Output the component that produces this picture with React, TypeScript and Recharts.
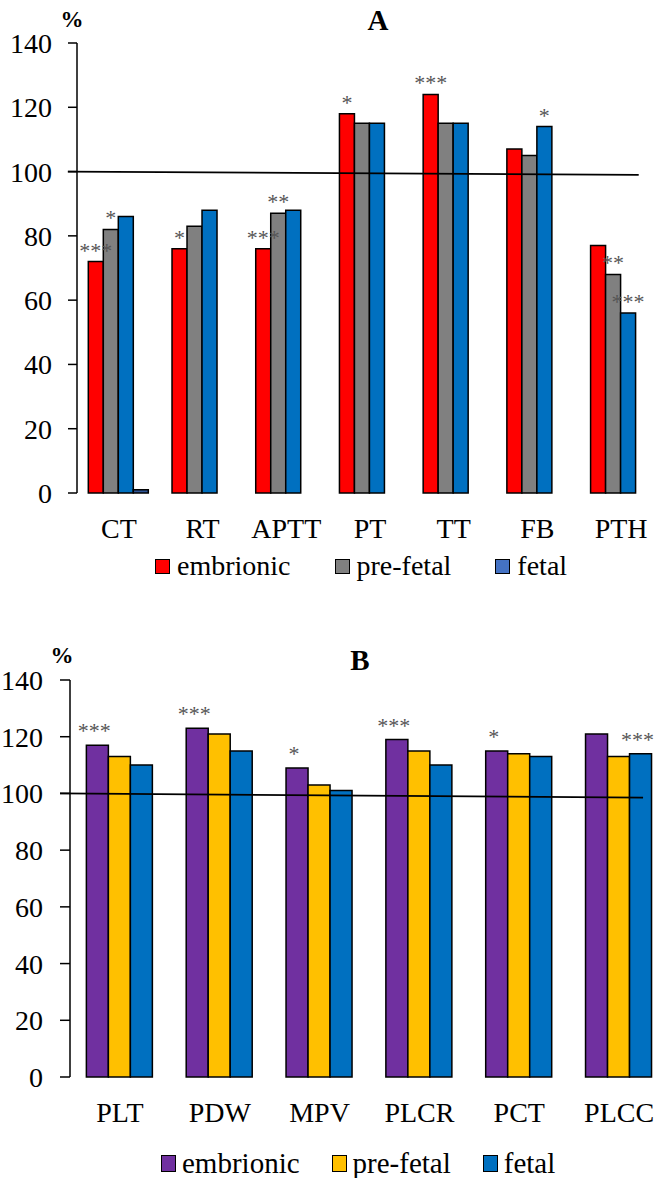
import React from 'react';
import { BarChart, Bar, XAxis, YAxis, ReferenceLine, Legend, LabelList } from 'recharts';

const FONT = '"Liberation Serif", "Times New Roman", serif';

// ---------- Chart A data ----------
const categoriesA = ['CT', 'RT', 'APTT', 'PT', 'TT', 'FB', 'PTH'];
const embrionicA = [72, 76, 76, 118, 124, 107, 77];
const preFetalA = [82, 83, 87, 115, 115, 105, 68];
const fetalA = [86, 88, 88, 115, 115, 114, 56];
const extraA = [1, null, null, null, null, null, null];
const starsEmbrionicA = ['***', '*', '***', '*', '***', '', ''];
const starsPreFetalA = ['*', '', '**', '', '', '', '**'];
const starsFetalA = ['', '', '', '', '', '*', '***'];
const trendA = [{ x: -0.11, y: 100 }, { x: 6.71, y: 99 }];

// ---------- Chart B data ----------
const categoriesB = ['PLT', 'PDW', 'MPV', 'PLCR', 'PCT', 'PLCC'];
const embrionicB = [117, 123, 109, 119, 115, 121];
const preFetalB = [113, 121, 103, 115, 114, 113];
const fetalB = [110, 115, 101, 110, 113, 114];
const starsEmbrionicB = ['***', '***', '*', '***', '*', ''];
const starsFetalB = ['', '', '', '', '', '***'];
const trendB = [{ x: -0.1, y: 100 }, { x: 5.74, y: 98.5 }];

const yTicks = [0, 20, 40, 60, 80, 100, 120, 140];
const seriesNames = ['embrionic', 'pre-fetal', 'fetal'];

const colorsA = { emb: '#FF0000', pre: '#808080', fet: '#0070C0', extra: '#2F5597', legendFet: '#4472C4' };
const colorsB = { emb: '#7030A0', pre: '#FFC000', fet: '#0070C0' };

const dataA = categoriesA.map((name, i) => ({
  name,
  pos: i + 0.5,
  emb: embrionicA[i],
  pre: preFetalA[i],
  fet: fetalA[i],
  extra: extraA[i],
  sEmb: starsEmbrionicA[i],
  sPre: starsPreFetalA[i],
  sFet: starsFetalA[i],
}));

const dataB = categoriesB.map((name, i) => ({
  name,
  pos: i + 0.5,
  emb: embrionicB[i],
  pre: preFetalB[i],
  fet: fetalB[i],
  sEmb: starsEmbrionicB[i],
  sFet: starsFetalB[i],
}));

const boundsA = categoriesA.map((_, i) => i).concat(categoriesA.length);
const boundsB = categoriesB.map((_, i) => i).concat(categoriesB.length);

const makeStar = (dx: number, dy: number) => (props: any) => {
  const { x, y, width, value } = props;
  if (!value) return null;
  return (
    <text
      x={Number(x) + Number(width) / 2 + dx}
      y={Number(y) + dy}
      textAnchor="middle"
      fontFamily={FONT}
      fontSize={22}
      fill="#555"
    >
      {value}
    </text>
  );
};

const starA = makeStar(0, -4);
const starB = makeStar(-3, -7);

function LegendRow(props: any) {
  const { items, fontSize, gap, swatchGap, padLeft, height, swW, swH } = props;
  return (
    <div
      style={{
        display: 'flex',
        alignItems: 'center',
        height,
        paddingLeft: padLeft,
        fontFamily: FONT,
        fontSize,
        lineHeight: `${height}px`,
        color: '#000',
        whiteSpace: 'nowrap',
      }}
    >
      {items.map((it: any, i: number) => (
        <div key={it.name} style={{ display: 'flex', alignItems: 'center', marginLeft: i ? gap : 0 }}>
          <span
            style={{
              display: 'inline-block',
              width: swW,
              height: swH,
              background: it.color,
              border: '1.5px solid #000',
              boxSizing: 'border-box',
              marginRight: swatchGap,
            }}
          />
          <span>{it.name}</span>
        </div>
      ))}
    </div>
  );
}

const legendItemsA = [
  { name: seriesNames[0], color: colorsA.emb },
  { name: seriesNames[1], color: colorsA.pre },
  { name: seriesNames[2], color: colorsA.legendFet },
];
const legendItemsB = [
  { name: seriesNames[0], color: colorsB.emb },
  { name: seriesNames[1], color: colorsB.pre },
  { name: seriesNames[2], color: colorsB.fet },
];

const axisStroke = { stroke: '#000', strokeWidth: 1.5 };
const tickFont = { fill: '#000', fontSize: 28, fontFamily: FONT };

export default function App() {
  return (
    <div style={{ position: 'absolute', left: 0, top: 0, width: 664, height: 1178, overflow: 'hidden', background: '#fff' }}>
      <div style={{ position: 'absolute', left: 0, top: 0, width: 664, height: 600 }}>
        <BarChart
          width={664}
          height={600}
          data={dataA}
          margin={{ top: 43, right: 1, bottom: 18, left: 0 }}
          barGap={0}
          barCategoryGap="13.5%"
        >
          <XAxis
            xAxisId="t"
            dataKey="pos"
            type="number"
            domain={[0, categoriesA.length]}
            ticks={boundsA}
            tick={false}
            tickSize={8}
            height={0}
            axisLine={axisStroke}
            tickLine={axisStroke}
          />
          <XAxis
            dataKey="name"
            tickLine={false}
            axisLine={false}
            tickSize={8}
            tickMargin={17}
            height={57}
            interval={0}
            tick={tickFont}
          />
          <YAxis
            domain={[0, 140]}
            ticks={yTicks}
            interval={0}
            width={77}
            tickSize={9}
            tickMargin={16}
            axisLine={axisStroke}
            tickLine={axisStroke}
            tick={tickFont}
          />
          <Bar dataKey="emb" name={seriesNames[0]} fill={colorsA.emb} stroke="#000" strokeWidth={1.5} isAnimationActive={false}>
            <LabelList dataKey="sEmb" content={starA} />
          </Bar>
          <Bar dataKey="pre" name={seriesNames[1]} fill={colorsA.pre} stroke="#000" strokeWidth={1.5} isAnimationActive={false}>
            <LabelList dataKey="sPre" content={starA} />
          </Bar>
          <Bar dataKey="fet" name={seriesNames[2]} fill={colorsA.fet} stroke="#000" strokeWidth={1.5} isAnimationActive={false}>
            <LabelList dataKey="sFet" content={starA} />
          </Bar>
          <Bar dataKey="extra" fill={colorsA.extra} stroke="#000" strokeWidth={1.5} legendType="none" isAnimationActive={false} />
          <ReferenceLine xAxisId="t" segment={trendA} stroke="#000" strokeWidth={1.8} ifOverflow="visible" />
          <Legend
            verticalAlign="bottom"
            wrapperStyle={{ left: 0, width: 664 }}
            content={() => (
              <LegendRow items={legendItemsA} fontSize={28} gap={44} swatchGap={7} padLeft={155} height={32} swW={15} swH={15} />
            )}
          />
        </BarChart>
      </div>

      <div style={{ position: 'absolute', left: 0, top: 600, width: 670, height: 578 }}>
        <BarChart
          width={670}
          height={578}
          data={dataB}
          margin={{ top: 80, right: 1, bottom: 0, left: 0 }}
          barGap={0}
          barCategoryGap="16.4%"
        >
          <XAxis
            xAxisId="t"
            dataKey="pos"
            type="number"
            domain={[0, categoriesB.length]}
            ticks={boundsB}
            tick={false}
            tickSize={8}
            height={0}
            axisLine={axisStroke}
            tickLine={axisStroke}
          />
          <XAxis
            dataKey="name"
            tickLine={false}
            axisLine={false}
            tickSize={8}
            tickMargin={17}
            height={71}
            interval={0}
            tick={tickFont}
          />
          <YAxis
            domain={[0, 140]}
            ticks={yTicks}
            interval={0}
            width={70}
            tickSize={10}
            tickMargin={17}
            axisLine={axisStroke}
            tickLine={axisStroke}
            tick={tickFont}
          />
          <Bar dataKey="emb" name={seriesNames[0]} fill={colorsB.emb} stroke="#000" strokeWidth={1.5} isAnimationActive={false}>
            <LabelList dataKey="sEmb" content={starB} />
          </Bar>
          <Bar dataKey="pre" name={seriesNames[1]} fill={colorsB.pre} stroke="#000" strokeWidth={1.5} isAnimationActive={false} />
          <Bar dataKey="fet" name={seriesNames[2]} fill={colorsB.fet} stroke="#000" strokeWidth={1.5} isAnimationActive={false}>
            <LabelList dataKey="sFet" content={starB} />
          </Bar>
          <ReferenceLine xAxisId="t" segment={trendB} stroke="#000" strokeWidth={1.8} ifOverflow="visible" />
          <Legend
            verticalAlign="bottom"
            wrapperStyle={{ left: 0, width: 670 }}
            content={() => (
              <LegendRow items={legendItemsB} fontSize={29} gap={32} swatchGap={6} padLeft={161} height={30} swW={15} swH={17} />
            )}
          />
        </BarChart>
      </div>

      <svg width={664} height={1178} style={{ position: 'absolute', left: 0, top: 0, pointerEvents: 'none' }}>
        <text x={378} y={30} textAnchor="middle" fontFamily={FONT} fontWeight="bold" fontSize={29} fill="#000">A</text>
        <text x={72} y={27} textAnchor="middle" fontFamily={FONT} fontWeight="bold" fontSize={23} fill="#000">%</text>
        <text x={360} y={670} textAnchor="middle" fontFamily={FONT} fontWeight="bold" fontSize={29} fill="#000">B</text>
        <text x={62} y={663} textAnchor="middle" fontFamily={FONT} fontWeight="bold" fontSize={23} fill="#000">%</text>
      </svg>
    </div>
  );
}
